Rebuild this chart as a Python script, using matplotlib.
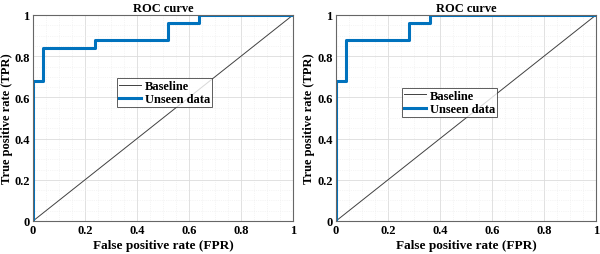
import matplotlib.pyplot as plt
from matplotlib.ticker import MultipleLocator

# ROC step points
fpr_left = [0, 0, 0.04, 0.04, 0.24, 0.24, 0.52, 0.52, 0.64, 0.64, 1]
tpr_left = [0, 0.68, 0.68, 0.84, 0.84, 0.88, 0.88, 0.96, 0.96, 1, 1]

fpr_right = [0, 0, 0.04, 0.04, 0.28, 0.28, 0.36, 0.36, 1]
tpr_right = [0, 0.68, 0.68, 0.88, 0.88, 0.96, 0.96, 1, 1]

baseline = [0, 1]
ticks = [0, 0.2, 0.4, 0.6, 0.8, 1]
tick_labels = ["0", "0.2", "0.4", "0.6", "0.8", "1"]

plt.rcParams['font.family'] = ['Liberation Serif', 'DejaVu Serif']
plt.rcParams['font.weight'] = 'bold'

fig = plt.figure(figsize=(6, 2.55), dpi=100)
axes = [fig.add_axes([33/600, 1-222/255, 260/600, 206/255]),
        fig.add_axes([336/600, 1-222/255, 260/600, 206/255])]
curves = [(fpr_left, tpr_left), (fpr_right, tpr_right)]
legend_pos = [(0.323, 0.553), (0.254, 0.505)]
ylabel_x = [-0.1, -0.105]

for ax, (x, y), lp, yx in zip(axes, curves, legend_pos, ylabel_x):
    ax.plot(baseline, baseline, color='#404040', lw=0.7, label='Baseline')
    ax.plot(x, y, color='#0072BD', lw=2.2, label='Unseen data')
    ax.set_xlim(0, 1)
    ax.set_ylim(0, 1)
    ax.set_xticks(ticks)
    ax.set_xticklabels(tick_labels)
    ax.set_yticks(ticks)
    ax.set_yticklabels(tick_labels)
    ax.xaxis.set_minor_locator(MultipleLocator(0.05))
    ax.yaxis.set_minor_locator(MultipleLocator(0.05))
    ax.grid(which='major', color='#dcdcdc', lw=0.6)
    ax.grid(which='minor', color='#ececec', lw=0.5, ls=':')
    ax.tick_params(which='both', direction='in', length=0, labelsize=9, pad=2.5)
    for s in ax.spines.values():
        s.set_linewidth(0.8)
        s.set_color('#666666')
    ax.set_title('ROC curve', fontsize=9, fontweight='bold', pad=3)
    ax.set_xlabel('False positive rate (FPR)', fontsize=9.5, fontweight='bold', labelpad=2)
    ax.set_ylabel('True positive rate (TPR)', fontsize=9, fontweight='bold', va='center')
    ax.yaxis.set_label_coords(yx, 0.5)
    leg = ax.legend(loc='lower left', bbox_to_anchor=lp, fontsize=9, frameon=True,
                    fancybox=False, edgecolor='#333333', handlelength=1.8,
                    borderpad=0.15, labelspacing=0.1, handletextpad=0.3, borderaxespad=0)
    leg.get_frame().set_linewidth(0.7)

fig.savefig('out.png', dpi=100)
